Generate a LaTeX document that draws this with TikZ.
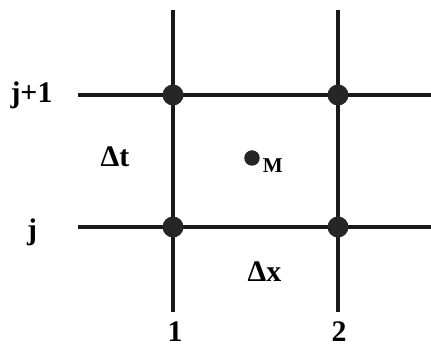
\documentclass[tikz,border=0pt]{standalone}
\usepackage{fontspec}
\setmainfont{Liberation Serif}
\usetikzlibrary{positioning}

\begin{document}
\begin{tikzpicture}[font=\fontsize{17}{20}\selectfont\bfseries,
    gridline/.style={line width=2pt, draw=black!90},
    gridpt/.style={circle, fill=black!85, inner sep=0pt, minimum size=0.42cm},
    midpt/.style={circle, fill=black!85, inner sep=0pt, minimum size=0.31cm}]
  % scale: 1 px of the figure = 0.02 cm
  \useasboundingbox (0,0) rectangle (8.62,7.10);

  % grid points (column, row)
  \coordinate (p1j)  at (3.46,2.56);
  \coordinate (p2j)  at (6.76,2.56);
  \coordinate (p1jj) at (3.46,5.20);
  \coordinate (p2jj) at (6.76,5.20);
  % free line ends
  \coordinate (top1) at (3.46,6.90);
  \coordinate (bot1) at (3.46,0.86);
  \coordinate (top2) at (6.76,6.90);
  \coordinate (bot2) at (6.76,0.86);
  \coordinate (lftj)  at (1.56,2.56);
  \coordinate (rgtj)  at (8.62,2.56);
  \coordinate (lftjj) at (1.56,5.20);
  \coordinate (rgtjj) at (8.62,5.20);

  \draw[gridline] (top1) -- (bot1);
  \draw[gridline] (top2) -- (bot2);
  \draw[gridline] (lftjj) -- (rgtjj);
  \draw[gridline] (lftj) -- (rgtj);

  \node[gridpt] (n1jj) at (p1jj) {};
  \node[gridpt] (n2jj) at (p2jj) {};
  \node[gridpt] (n1j)  at (p1j)  {};
  \node[gridpt] (n2j)  at (p2j)  {};

  % mid point
  \node[midpt] (m) at (5.04,3.94) {};
  \node[anchor=base west, inner sep=0pt, font=\fontsize{12}{14}\selectfont\bfseries] (mlbl) at (5.25,3.64) {M};

  % labels
  \node[anchor=base] (rowjj) at (0.63,5.04) {j+1};
  \node[anchor=base] (rowj)  at (0.64,2.30) {j};
  \node[anchor=base] (dt)    at (2.30,3.76) {Δt};
  \node[anchor=base] (dx)    at (5.29,1.46) {Δx};
  \node[anchor=base] (col1)  at (3.50,0.26) {1};
  \node[anchor=base] (col2)  at (6.78,0.26) {2};
\end{tikzpicture}
\end{document}
